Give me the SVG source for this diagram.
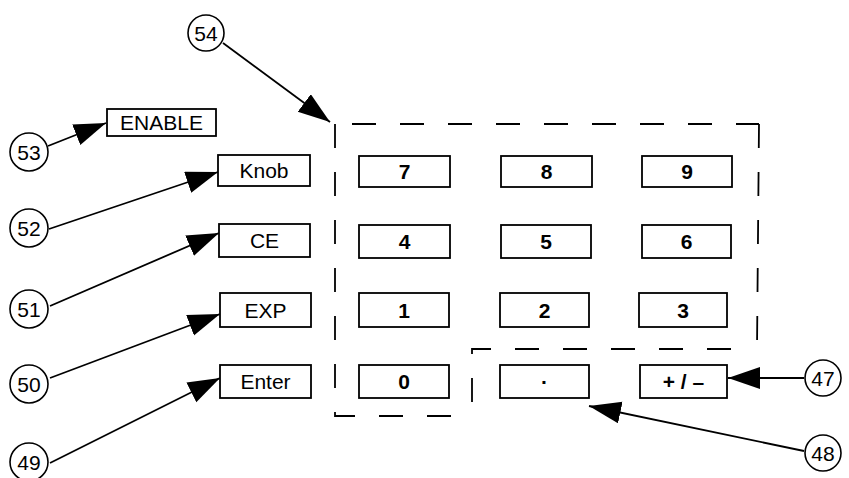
<svg xmlns="http://www.w3.org/2000/svg" width="849" height="478" viewBox="0 0 849 478">
<defs>
<marker id="ah" markerUnits="userSpaceOnUse" markerWidth="34" markerHeight="24" refX="32" refY="11" orient="auto">
<path d="M0,0 L32,11 L0,22 z" fill="#000"/>
</marker>
<style>
.btn{fill:#fff;stroke:#000;stroke-width:1.8}
.t{font-family:"Liberation Sans",Arial,sans-serif;font-size:21px;text-anchor:middle;fill:#000}
.d{font-weight:bold}
.c{fill:#fff;stroke:#000;stroke-width:1.6}
.ct{font-family:"Liberation Sans",Arial,sans-serif;font-size:21px;text-anchor:middle;fill:#000}
.ln{stroke:#000;stroke-width:1.8;fill:none;marker-end:url(#ah)}
.dash{stroke:#000;stroke-width:1.8;fill:none;stroke-dasharray:24 24}
</style>
</defs>
<rect width="849" height="478" fill="#fff"/>
<g id="outline">
<path class="dash" d="M352,124 L759,124"/>
<path class="dash" d="M335,124 L335,416 L456,416"/>
<path class="dash" d="M759,124 L757,349"/>
<path class="dash" d="M731,349 L472,349 L472,416"/>
</g>
<g id="connectors">
<line class="ln" x1="223" y1="43" x2="330" y2="122"/>
<line class="ln" x1="48" y1="146" x2="106" y2="123"/>
<line class="ln" x1="49" y1="229" x2="218" y2="172"/>
<line class="ln" x1="50" y1="306" x2="219" y2="233"/>
<line class="ln" x1="50" y1="378" x2="220" y2="314"/>
<line class="ln" x1="50" y1="463" x2="220" y2="378"/>
<line class="ln" x1="804" y1="378" x2="728" y2="378"/>
<line class="ln" x1="804" y1="451" x2="589" y2="406"/>
</g>
<g id="btn-enable"><rect class="btn" x="107" y="109" width="109" height="27"/><text class="t" x="161.5" y="130">ENABLE</text></g>
<g id="btn-knob"><rect class="btn" x="218" y="155" width="92" height="31"/><text class="t" x="264" y="178">Knob</text></g>
<g id="btn-ce"><rect class="btn" x="219" y="224" width="91" height="33"/><text class="t" x="264.5" y="248">CE</text></g>
<g id="btn-exp"><rect class="btn" x="220" y="293" width="91" height="34"/><text class="t" x="265.5" y="317.5">EXP</text></g>
<g id="btn-enter"><rect class="btn" x="220" y="365" width="91" height="33"/><text class="t" x="265.5" y="389">Enter</text></g>
<g id="btn-7"><rect class="btn" x="359" y="156" width="91" height="31"/><text class="t d" x="404.5" y="179">7</text></g>
<g id="btn-8"><rect class="btn" x="501" y="156" width="91" height="31"/><text class="t d" x="546.5" y="179">8</text></g>
<g id="btn-9"><rect class="btn" x="642" y="156" width="90" height="31"/><text class="t d" x="687" y="179">9</text></g>
<g id="btn-4"><rect class="btn" x="359" y="225" width="91" height="33"/><text class="t d" x="404.5" y="249">4</text></g>
<g id="btn-5"><rect class="btn" x="501" y="225" width="90" height="33"/><text class="t d" x="546" y="249">5</text></g>
<g id="btn-6"><rect class="btn" x="642" y="225" width="89" height="33"/><text class="t d" x="686.5" y="249">6</text></g>
<g id="btn-1"><rect class="btn" x="359" y="293" width="90" height="34"/><text class="t d" x="404" y="318">1</text></g>
<g id="btn-2"><rect class="btn" x="500" y="293" width="89" height="34"/><text class="t d" x="544.5" y="318">2</text></g>
<g id="btn-3"><rect class="btn" x="639" y="293" width="88" height="34"/><text class="t d" x="683" y="318">3</text></g>
<g id="btn-0"><rect class="btn" x="359" y="365" width="90" height="33"/><text class="t d" x="404" y="389">0</text></g>
<g id="btn-dot"><rect class="btn" x="500" y="365" width="89" height="33"/><text class="t d" x="544.5" y="389">·</text></g>
<g id="btn-pm"><rect class="btn" x="640" y="365" width="87" height="33"/><text class="t d" x="683.5" y="389">+ / –</text></g>
<g id="c54"><circle class="c" cx="206" cy="33" r="18"/><text class="ct" x="206" y="40.5">54</text></g>
<g id="c53"><circle class="c" cx="29" cy="152" r="19"/><text class="ct" x="29" y="159.5">53</text></g>
<g id="c52"><circle class="c" cx="29" cy="228" r="19"/><text class="ct" x="29" y="235.5">52</text></g>
<g id="c51"><circle class="c" cx="29" cy="309" r="19"/><text class="ct" x="29" y="316.5">51</text></g>
<g id="c50"><circle class="c" cx="29" cy="384" r="19"/><text class="ct" x="29" y="391.5">50</text></g>
<g id="c49"><circle class="c" cx="29" cy="462" r="19"/><text class="ct" x="29" y="469.5">49</text></g>
<g id="c47"><circle class="c" cx="823" cy="378" r="18"/><text class="ct" x="823" y="385.5">47</text></g>
<g id="c48"><circle class="c" cx="823" cy="453" r="18"/><text class="ct" x="823" y="460.5">48</text></g>
</svg>
